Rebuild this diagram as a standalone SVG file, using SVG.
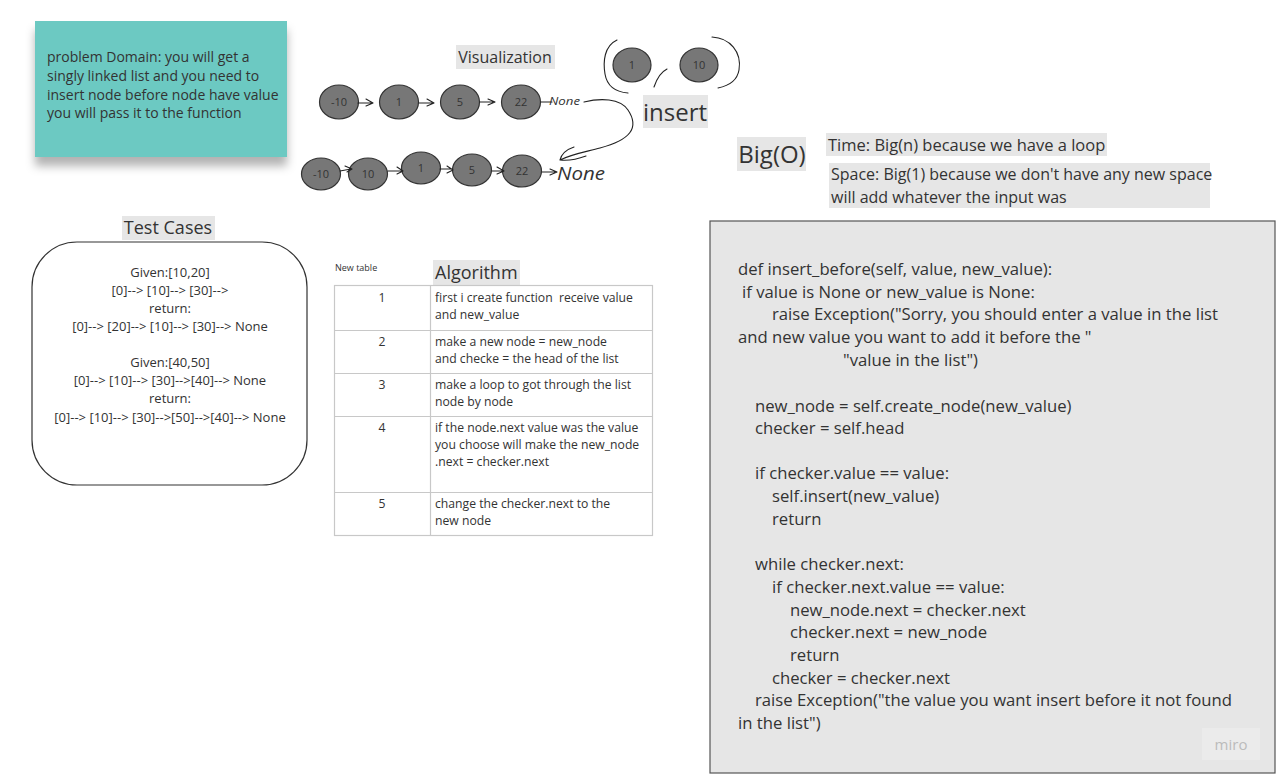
<svg xmlns="http://www.w3.org/2000/svg" width="1281" height="780" viewBox="0 0 1281 780">
<defs>
<filter id="shadow" x="-20%" y="-20%" width="140%" height="160%">
<feDropShadow dx="0" dy="9" stdDeviation="5" flood-color="#000" flood-opacity="0.3"/>
</filter>
<style>
text{font-family:"Open Sans","Noto Sans","Liberation Sans",sans-serif;fill:#333}
.nd{fill:#777;stroke:#333;stroke-width:1.2}
.nt{font-size:11px;text-anchor:middle;fill:#333}
.hand{fill:none;stroke:#222;stroke-width:1.1;stroke-linecap:round;stroke-linejoin:round}
.hl{fill:#e6e6e6}
.code{font-size:16.7px}
.tc{font-size:13px;text-anchor:middle}
.tb{font-size:12.2px}
.grid{fill:none;stroke:#c8c8c8;stroke-width:1.2}
</style>
</defs>
<rect width="1281" height="780" fill="#fff"/>

<g id="problem-domain">
<rect x="35" y="21" width="252" height="136" fill="#6cc9c2" filter="url(#shadow)"/>
<text x="47" y="62" font-size="14">problem Domain: you will get a</text>
<text x="47" y="81" font-size="14">singly linked list and you need to</text>
<text x="47" y="100" font-size="14">insert node before node have value</text>
<text x="47" y="118" font-size="14">you will pass it to the function</text>
</g>

<g id="visualization-title">
<rect class="hl" x="456" y="45" width="99" height="24"/>
<text x="505" y="63" font-size="16" text-anchor="middle">Visualization</text>
</g>

<g id="list-before">
<ellipse class="nd" cx="339" cy="102" rx="19.5" ry="17"/><text class="nt" x="339" y="106">-10</text>
<ellipse class="nd" cx="399" cy="102" rx="19.5" ry="17"/><text class="nt" x="399" y="106">1</text>
<ellipse class="nd" cx="460" cy="102" rx="19.5" ry="17"/><text class="nt" x="460" y="106">5</text>
<ellipse class="nd" cx="521" cy="102" rx="19.5" ry="17"/><text class="nt" x="521" y="106">22</text>
<text x="549" y="105" font-size="11" font-style="italic" font-family="DejaVu Sans, sans-serif" textLength="31" lengthAdjust="spacingAndGlyphs">None</text>
</g>

<g id="list-after">
<ellipse class="nd" cx="321" cy="174" rx="19.5" ry="16"/><text class="nt" x="321" y="178">-10</text>
<ellipse class="nd" cx="368" cy="174" rx="19.5" ry="16"/><text class="nt" x="368" y="178">10</text>
<ellipse class="nd" cx="421" cy="168" rx="19.5" ry="16"/><text class="nt" x="421" y="172">1</text>
<ellipse class="nd" cx="472" cy="170" rx="19.5" ry="16"/><text class="nt" x="472" y="174">5</text>
<ellipse class="nd" cx="522" cy="171" rx="19.5" ry="16"/><text class="nt" x="522" y="175">22</text>
<text x="557" y="180" font-size="18" font-style="italic" font-family="DejaVu Sans, sans-serif" textLength="48" lengthAdjust="spacingAndGlyphs">None</text>
</g>

<g id="insert-values">
<ellipse class="nd" cx="632" cy="65" rx="19" ry="17"/><text class="nt" x="632" y="69">1</text>
<ellipse class="nd" cx="699" cy="65" rx="19" ry="17"/><text class="nt" x="699" y="69">10</text>
<path class="hand" d="M617,40 C604,46 603,62 605,74 C607,86 616,92 628,93"/>
<path class="hand" d="M712,37 C730,38 742,52 739,70 C737,82 728,86 718,88"/>
<path class="hand" d="M654,87 C657,78 661,72 667,69"/>
<rect class="hl" x="643" y="95" width="65" height="33"/>
<text x="675" y="121" font-size="24" text-anchor="middle">insert</text>
</g>

<g id="connectors">
<path class="hand" d="M358,103 H371 M366,99 L373,103 L366,106"/>
<path class="hand" d="M419,103 H432 M427,99 L434,103 L427,106"/>
<path class="hand" d="M480,102 H493 M488,99 L495,102 L488,105"/>
<path class="hand" d="M541,102 H552"/>
<path class="hand" d="M584,102 C600,98 620,98 628,110 C640,128 630,140 600,148 C585,152 572,154 560,160 M560,160 C562,152 568,149 574,147 M560,160 C570,161 578,159 586,156"/>
<path class="hand" d="M340,171 L351,169 M345,166 L352,169 L347,172"/>
<path class="hand" d="M388,171 H401 M397,167 L403,171 L397,174"/>
<path class="hand" d="M440,169 H452 M447,166 L453,170 L447,173"/>
<path class="hand" d="M492,171 H503 M497,167 L504,171 L497,174"/>
<path class="hand" d="M542,172 H555 M550,169 L557,172 L550,175"/>
</g>

<g id="big-o">
<rect class="hl" x="737" y="137" width="69" height="34"/>
<text x="772" y="163" font-size="24" text-anchor="middle">Big(O)</text>
<rect class="hl" x="826" y="133" width="281" height="23"/>
<text x="828" y="151" font-size="16.5">Time: Big(n) because we have a loop</text>
<rect class="hl" x="829" y="163" width="381" height="45"/>
<text x="831" y="180" font-size="16">Space: Big(1) because we don't have any new space</text>
<text x="831" y="203" font-size="16">will add whatever the input was</text>
</g>

<g id="code">
<rect x="710" y="221" width="565" height="552" fill="#e6e6e6" stroke="#555" stroke-width="1.2"/>
<text class="code" x="738" y="275">def insert_before(self, value, new_value):</text>
<text class="code" x="742" y="298">if value is None or new_value is None:</text>
<text class="code" x="772" y="320">raise Exception("Sorry, you should enter a value in the list</text>
<text class="code" x="738" y="343">and new value you want to add it before the "</text>
<text class="code" x="843" y="366">"value in the list")</text>
<text class="code" x="755" y="412">new_node = self.create_node(new_value)</text>
<text class="code" x="755" y="434">checker = self.head</text>
<text class="code" x="755" y="479">if checker.value == value:</text>
<text class="code" x="772" y="502">self.insert(new_value)</text>
<text class="code" x="772" y="525">return</text>
<text class="code" x="755" y="570">while checker.next:</text>
<text class="code" x="772" y="593">if checker.next.value == value:</text>
<text class="code" x="790" y="616">new_node.next = checker.next</text>
<text class="code" x="790" y="638">checker.next = new_node</text>
<text class="code" x="790" y="661">return</text>
<text class="code" x="772" y="684">checker = checker.next</text>
<text class="code" x="755" y="706">raise Exception("the value you want insert before it not found</text>
<text class="code" x="738" y="729">in the list")</text>
<rect x="1202" y="728" width="58" height="32" fill="#ebebeb"/>
<text x="1231" y="750" font-size="15" text-anchor="middle" style="fill:#bbb">miro</text>
</g>

<g id="test-cases">
<rect class="hl" x="122" y="216" width="93" height="24"/>
<text x="168" y="234" font-size="18" text-anchor="middle">Test Cases</text>
<rect x="32" y="242" width="275" height="243" rx="45" ry="45" fill="#fff" stroke="#333" stroke-width="1.2"/>
<text class="tc" x="170" y="277">Given:[10,20]</text>
<text class="tc" x="170" y="295">[0]--&gt; [10]--&gt; [30]--&gt;</text>
<text class="tc" x="170" y="313">return:</text>
<text class="tc" x="170" y="331">[0]--&gt; [20]--&gt; [10]--&gt; [30]--&gt; None</text>
<text class="tc" x="170" y="367">Given:[40,50]</text>
<text class="tc" x="170" y="385">[0]--&gt; [10]--&gt; [30]--&gt;[40]--&gt; None</text>
<text class="tc" x="170" y="403">return:</text>
<text class="tc" x="170" y="422">[0]--&gt; [10]--&gt; [30]--&gt;[50]--&gt;[40]--&gt; None</text>
</g>

<g id="algorithm">
<text x="335" y="271" font-size="9">New table</text>
<rect class="hl" x="433" y="260" width="87" height="25"/>
<text x="435" y="279" font-size="18">Algorithm</text>
<rect class="grid" x="334.5" y="285.5" width="318" height="250"/>
<path class="grid" d="M430.5,286 V536 M335,330.5 H652 M335,373.5 H652 M335,416.5 H652 M335,492.5 H652"/>
<text class="tb" x="382" y="302" text-anchor="middle">1</text>
<text class="tb" x="435" y="302" xml:space="preserve">first i create function  receive value</text>
<text class="tb" x="435" y="319">and new_value</text>
<text class="tb" x="382" y="346" text-anchor="middle">2</text>
<text class="tb" x="435" y="346">make a new node = new_node</text>
<text class="tb" x="435" y="363">and checke = the head of the list</text>
<text class="tb" x="382" y="389" text-anchor="middle">3</text>
<text class="tb" x="435" y="389">make a loop to got through the list</text>
<text class="tb" x="435" y="406">node by node</text>
<text class="tb" x="382" y="432" text-anchor="middle">4</text>
<text class="tb" x="435" y="432">if the node.next value was the value</text>
<text class="tb" x="435" y="449">you choose will make the new_node</text>
<text class="tb" x="435" y="466">.next = checker.next</text>
<text class="tb" x="382" y="508" text-anchor="middle">5</text>
<text class="tb" x="435" y="508">change the checker.next to the</text>
<text class="tb" x="435" y="525">new node</text>
</g>
</svg>
